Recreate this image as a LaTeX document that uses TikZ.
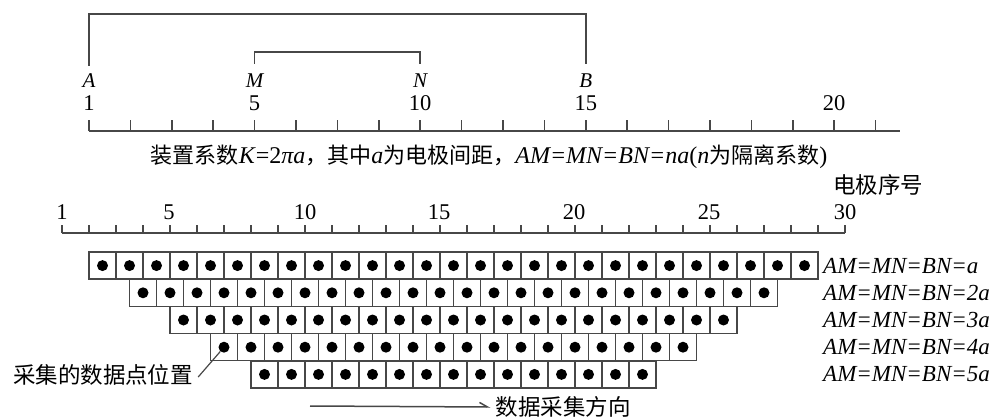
\documentclass[tikz,border=0pt]{standalone}
\usepackage{fontspec}
\setmainfont{Liberation Serif}
\newfontfamily\cjk{Noto Sans CJK SC}
\newcommand\zhs[1]{{\cjk\fontsize{22}{26}\selectfont #1}}
\usetikzlibrary{arrows.meta,calc}
\begin{document}
\begin{tikzpicture}[x=1pt,y=-1pt,
  ln/.style={draw=black!72,line width=1.5pt},
  el/.style={font=\fontsize{21}{24}\selectfont\itshape,inner sep=1pt},
  num/.style={font=\fontsize{22.5}{26}\selectfont,inner sep=1pt},
  zh/.style={font=\fontsize{22.5}{26}\selectfont\cjk,inner sep=1pt},
  cell/.style={draw=black!72,line width=1.3pt,minimum size=27pt,inner sep=0pt},
  dotn/.style={circle,fill=black,minimum size=11pt,inner sep=0pt},
  eq/.style={font=\fontsize{23}{26}\selectfont\itshape,anchor=west,inner sep=1pt}]
\useasboundingbox (0,0) rectangle (991,420);
% ---------- top axis ----------
\coordinate (t0) at (89,131);
\coordinate (tend) at (900,131);
\draw[ln] (t0) -- (tend);
\foreach \k in {0,...,19} \draw[ln] (89+41.4*\k,131) -- ++(0,-11);
\node[el] (A) at (89,81) {A};
\node[el] (M) at (254.6,81) {M};
\node[el] (N) at (420.2,81) {N};
\node[el] (B) at (585.8,81) {B};
\node[num] (u1) at (89,103) {1};
\node[num] (u5) at (254.6,103) {5};
\node[num] (u10) at (420.2,103) {10};
\node[num] (u15) at (585.8,103) {15};
\node[num] (u20) at (834.2,103) {20};
\draw[ln] ([yshift=7pt]A.north) -- (A.north |- 0,14) -| ([yshift=9pt]B.north);
\draw[ln] ([yshift=9pt]M.north) -- (M.north |- 0,52) -| ([yshift=9pt]N.north);
% ---------- caption ----------
\node[font=\fontsize{24}{26}\selectfont,inner sep=1pt] (coef) at (489,157)
  {\zhs{装置系数}\textit{K}=2\textit{πa}\zhs{，其中}\textit{a}\zhs{为电极间距，}\textit{AM=MN=BN=na}(\textit{n}\zhs{为隔离系数})};
% ---------- electrode axis ----------
\coordinate (e0) at (62,233);
\coordinate (eend) at (845,233);
\draw[ln] (e0) -- (eend);
\foreach \k in {0,...,29} \draw[ln] (62+27*\k,233) -- ++(0,-8);
\node[num] (v1) at (62,212) {1};
\node[num] (v5) at (169,212) {5};
\node[num] (v10) at (305,212) {10};
\node[num] (v15) at (439,212) {15};
\node[num] (v20) at (574,212) {20};
\node[num] (v25) at (709,212) {25};
\node[num] (v30) at (845,212) {30};
\node[zh] (elabel) at (878,185) {电极序号};
% ---------- data grid ----------
\foreach \n in {1,...,5}{
  \pgfmathsetmacro\xs{62+27*(1.5*\n-0.5)}
  \pgfmathtruncatemacro\cnt{30-3*\n}
  \pgfmathsetmacro\yc{252+27.2*(\n-1)+13.6}
  \foreach \k in {1,...,\cnt}{
    \node[cell] (c-\n-\k) at (\xs+27*\k-13.5,\yc) {};
    \node[dotn] (d-\n-\k) at (c-\n-\k.center) {};
  }
  \node[eq] (eq-\n) at (822,\yc) {AM=MN=BN=\ifnum\n=1 a\else\n a\fi};
}
% ---------- annotations ----------
\node[zh] (lbl) at (103,375) {采集的数据点位置};
\draw[draw=black!72,line width=1.2pt] ([xshift=4pt,yshift=-2pt]lbl.east) -- (d-4-1);
\node[zh] (dir) at (563,407) {数据采集方向};
\coordinate (as) at (310,406);
\draw[ln,-{Straight Barb[harpoon,length=8pt,width=9pt]}] (as) -- ([xshift=-4pt]dir.west);
\end{tikzpicture}
\end{document}
